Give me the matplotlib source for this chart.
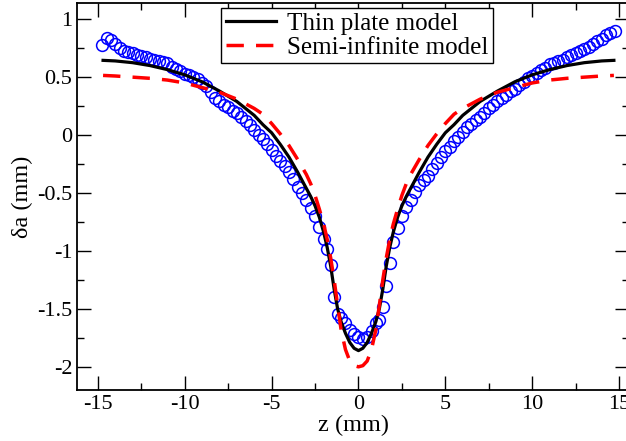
import matplotlib
matplotlib.use("Agg")
import matplotlib.pyplot as plt
from matplotlib.ticker import MultipleLocator

plt.rcParams['font.family'] = ['Liberation Serif', 'DejaVu Serif']

# measured data (z in mm, delta a in mm)
z_data = [-14.75, -14.5, -14.25, -14.0, -13.75, -13.5, -13.25, -13.0, -12.75, -12.5,
          -12.25, -12.0, -11.75, -11.5, -11.25, -11.0, -10.75, -10.5, -10.25, -10.0,
          -9.75, -9.5, -9.25, -9.0, -8.75, -8.5, -8.25, -8.0, -7.75, -7.5,
          -7.25, -7.0, -6.75, -6.5, -6.25, -6.0, -5.75, -5.5, -5.25, -5.0,
          -4.75, -4.5, -4.25, -4.0, -3.75, -3.5, -3.25, -3.0, -2.75, -2.5,
          -2.25, -2.0, -1.8, -1.6, -1.4, -1.2, -1.0, -0.75, -0.5, -0.25,
          0.0, 0.25, 0.5, 0.75, 1.0, 1.2, 1.4, 1.6, 1.8, 2.0,
          2.25, 2.5, 2.75, 3.0, 3.25, 3.5, 3.75, 4.0, 4.25, 4.5,
          4.75, 5.0, 5.25, 5.5, 5.75, 6.0, 6.25, 6.5, 6.75, 7.0,
          7.25, 7.5, 7.75, 8.0, 8.25, 8.5, 8.75, 9.0, 9.25, 9.5,
          9.75, 10.0, 10.25, 10.5, 10.75, 11.0, 11.25, 11.5, 11.75, 12.0,
          12.25, 12.5, 12.75, 13.0, 13.25, 13.5, 13.75, 14.0, 14.25, 14.5,
          14.75]
da_data = [0.78, 0.84, 0.82, 0.79, 0.75, 0.73, 0.72, 0.71, 0.69, 0.68,
           0.67, 0.66, 0.65, 0.64, 0.63, 0.62, 0.59, 0.57, 0.55, 0.53,
           0.52, 0.50, 0.48, 0.45, 0.42, 0.37, 0.32, 0.29, 0.26, 0.24,
           0.21, 0.19, 0.16, 0.12, 0.09, 0.04, 0.00, -0.03, -0.08, -0.13,
           -0.18, -0.22, -0.27, -0.32, -0.38, -0.45, -0.50, -0.56, -0.63, -0.70,
           -0.79, -0.90, -0.98, -1.12, -1.40, -1.54, -1.58, -1.62, -1.68, -1.72,
           -1.74, -1.76, -1.74, -1.69, -1.62, -1.60, -1.48, -1.30, -1.10, -0.92,
           -0.80, -0.70, -0.62, -0.56, -0.49, -0.43, -0.39, -0.35, -0.29, -0.24,
           -0.19, -0.14, -0.10, -0.05, -0.02, 0.03, 0.07, 0.10, 0.13, 0.16,
           0.19, 0.23, 0.26, 0.29, 0.32, 0.35, 0.38, 0.40, 0.43, 0.46,
           0.49, 0.51, 0.54, 0.56, 0.58, 0.61, 0.62, 0.64, 0.65, 0.67,
           0.69, 0.71, 0.73, 0.74, 0.76, 0.79, 0.81, 0.83, 0.86, 0.88,
           0.90]

# model curves
z_model = [-14.7, -14, -13, -12, -11, -10, -9, -8, -7, -6, -5.5, -5, -4.5, -4,
           -3.5, -3, -2.75, -2.5, -2.25, -2, -1.8, -1.6, -1.4, -1.2, -1, -0.75,
           -0.5, -0.25, 0, 0.25, 0.5, 0.75, 1, 1.2, 1.4, 1.6, 1.8, 2, 2.25, 2.5,
           2.75, 3, 3.5, 4, 4.5, 5, 5.5, 6, 7, 8, 9, 10, 11, 12, 13, 14, 14.7]
thin_plate = [0.645, 0.64, 0.625, 0.60, 0.565, 0.52, 0.46, 0.38, 0.29, 0.17, 0.09,
              0.02, -0.08, -0.19, -0.32, -0.46, -0.53, -0.61, -0.71, -0.84, -0.97,
              -1.13, -1.33, -1.50, -1.61, -1.71, -1.79, -1.84, -1.86, -1.84, -1.79,
              -1.71, -1.61, -1.50, -1.33, -1.13, -0.97, -0.84, -0.71, -0.61, -0.53,
              -0.46, -0.32, -0.19, -0.08, 0.02, 0.09, 0.17, 0.29, 0.38, 0.46, 0.52,
              0.565, 0.60, 0.625, 0.64, 0.645]
semi_inf = [0.515, 0.51, 0.50, 0.49, 0.475, 0.45, 0.41, 0.37, 0.31, 0.23, 0.18,
            0.10, 0.01, -0.09, -0.21, -0.34, -0.42, -0.52, -0.64, -0.77, -0.90,
            -1.06, -1.25, -1.47, -1.68, -1.85, -1.95, -1.99, -2.0, -1.99, -1.95,
            -1.85, -1.68, -1.47, -1.25, -1.06, -0.90, -0.77, -0.64, -0.52, -0.42,
            -0.34, -0.21, -0.09, 0.01, 0.10, 0.18, 0.23, 0.31, 0.37, 0.41, 0.45,
            0.475, 0.49, 0.50, 0.51, 0.515]

fig = plt.figure(figsize=(6.26, 4.41), dpi=100)
ax = fig.add_axes([77 / 626, 1 - 390 / 441, 552 / 626, 387 / 441])

ax.plot(z_data, da_data, 'o', mfc='none', mec='#0000ff', ms=8.5, mew=1.1)
ax.plot(z_model, thin_plate, color='black', lw=2.3, label='Thin plate model')
ax.plot(z_model, semi_inf, color='#ff0000', lw=2.5, dashes=(5, 3.5),
        label='Semi-infinite model')

ax.xaxis.set_major_locator(MultipleLocator(5))
ax.xaxis.set_minor_locator(MultipleLocator(2.5))
ax.yaxis.set_major_locator(MultipleLocator(0.5))
ax.yaxis.set_minor_locator(MultipleLocator(0.25))
ax.set_xticks([-15, -10, -5, 0, 5, 10, 15])
ax.set_xticklabels(['-15', '-10', '-5', '0', '5', '10', '15'])
ax.set_yticks([-2, -1.5, -1, -0.5, 0, 0.5, 1])
ax.set_yticklabels(['-2', '-1.5', '-1', '-0.5', '0', '0.5', '1'])
ax.set_xlim(-16.2, 15.57)
ax.set_ylim(-2.2, 1.14)
ax.tick_params(which='both', direction='in', top=True, right=True,
               labelsize=16, width=1)
ax.tick_params(which='major', length=10)
ax.tick_params(which='minor', length=5)
for s in ax.spines.values():
    s.set_linewidth(1.3)

ax.set_xlabel('z (mm)', fontsize=17.5, labelpad=1)
ax.set_ylabel('δa (mm)', fontsize=17.5, labelpad=3)

leg = ax.legend(loc='upper left', bbox_to_anchor=(221 / 626, 1 - 8 / 441),
                bbox_transform=fig.transFigure, fontsize=18, frameon=True,
                fancybox=False, framealpha=1, edgecolor='black',
                borderpad=0.18, labelspacing=0.05, handlelength=2.0,
                handletextpad=0.45, borderaxespad=0)
leg.get_frame().set_linewidth(1.0)

fig.savefig('out.png', dpi=100)
